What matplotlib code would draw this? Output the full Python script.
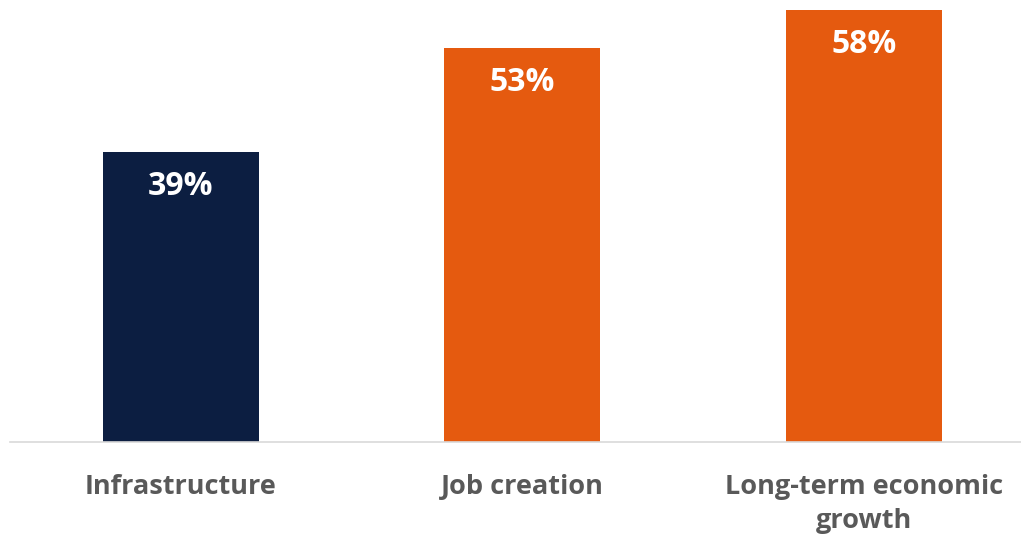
import matplotlib.pyplot as plt

# Share of respondents naming each priority
categories = ["Infrastructure", "Job creation", "Long-term economic\ngrowth"]
values = [39, 53, 58]
colors = ["#0c1e41", "#e55a0f", "#e55a0f"]

LABEL_GRAY = "#595959"
FONT = "Open Sans"

fig = plt.figure(figsize=(10.21, 5.42), dpi=100)
ax = fig.add_axes([10 / 1021, 100 / 542, 1011 / 1021, 442 / 542])

bars = ax.bar(range(len(values)), values, width=0.456, color=colors)

# Value labels sit inside the top of each bar
for bar, v in zip(bars, values):
    ax.annotate(f"{v}%", (bar.get_x() + bar.get_width() / 2, v),
                xytext=(0, -13), textcoords="offset points",
                ha="center", va="top", color="white",
                fontsize=23, fontweight="bold", family=FONT)

ax.set_xlim(-0.5, 2.46)
ax.set_ylim(0, 59.4)
ax.set_xticks(range(len(categories)))
ax.set_xticklabels(categories, fontsize=19.5, fontweight="bold",
                   color=LABEL_GRAY, family=FONT, linespacing=1.42)
ax.tick_params(axis="x", length=0, pad=23)
ax.set_yticks([])

for side in ("top", "left", "right"):
    ax.spines[side].set_visible(False)
ax.spines["bottom"].set_color("#d9d9d9")
ax.spines["bottom"].set_linewidth(1.2)

fig.savefig("out.png", dpi=100)
